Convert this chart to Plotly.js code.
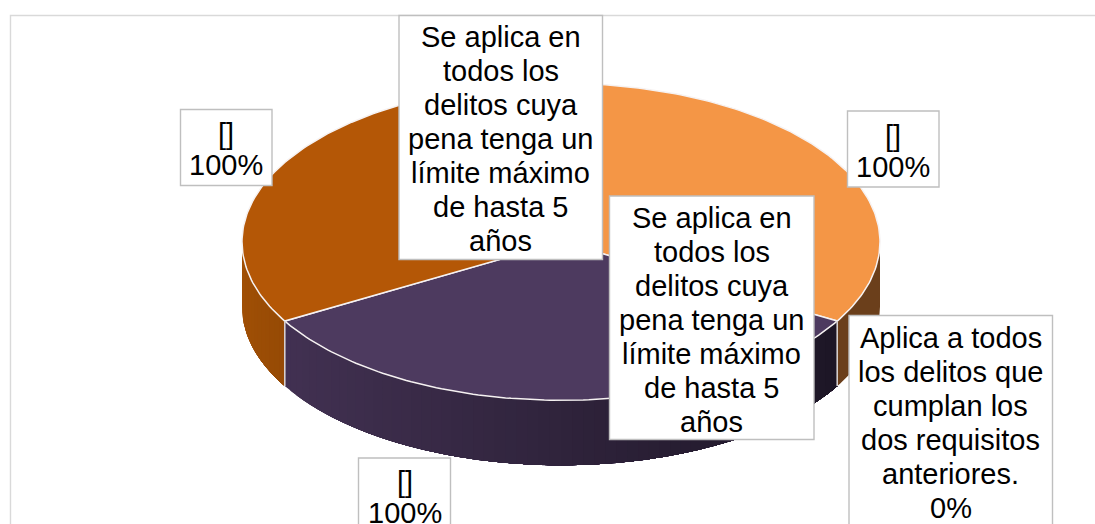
<!DOCTYPE html>
<html lang="es">
<head>
<meta charset="utf-8">
<script src="https://cdn.plot.ly/plotly-3.0.1.min.js"></script>
<style>html,body{margin:0;padding:0;background:#fff}#chart{width:1095px;height:524px}</style>
</head>
<body>
<div id="chart"></div>
<script>
// Slice values, clockwise from twelve o'clock; the last one is empty.
const sliceNames = ['[]', '[]', '[]', 'Aplica a todos los delitos que cumplan los dos requisitos anteriores.'];
const sliceValues = [100, 100, 100, 0];

// Colours per slice: top face, wall at its left end, wall at its right end.
const topColors = ['#f49646', '#4d3a5f', '#b45706', '#8064a2'];
const wallLeft = ['#6b3f1b', '#423152', '#a04f05', '#8064a2'];
const wallRight = ['#6b3f1b', '#1d1626', '#964a05', '#8064a2'];

// Text of the callouts, one entry per line.
const wrappedNote = ['Se aplica en', 'todos los', 'delitos cuya', 'pena tenga un', 'límite máximo', 'de hasta 5', 'años'];
const wrappedZero = ['Aplica a todos', 'los delitos que', 'cumplan los', 'dos requisitos', 'anteriores.', sliceValues[3] + '%'];

// Callout boxes: edges in pixels, centre line of the first text row, row spacing.
const callouts = [
  { x0: 180.5, x1: 272, y0: 109.5, y1: 185.5, first: 134, pitch: 31, rows: [sliceNames[2], sliceValues[2] + '%'] },
  { x0: 847.5, x1: 939, y0: 111, y1: 187, first: 135.5, pitch: 31, rows: [sliceNames[0], sliceValues[0] + '%'] },
  { x0: 358.5, x1: 450.5, y0: 458, y1: 534, first: 481.5, pitch: 31, rows: [sliceNames[1], sliceValues[1] + '%'] },
  { x0: 399, x1: 602.5, y0: 15.5, y1: 259.5, first: 37, pitch: 34, rows: wrappedNote },
  { x0: 609.5, x1: 814, y0: 196, y1: 439.5, first: 218, pitch: 34, rows: wrappedNote },
  { x0: 849, x1: 1052.5, y0: 315.5, y1: 560, first: 337.5, pitch: 34, rows: wrappedZero }
];

// Tilted disc geometry in pixels.
const cx = 561, cy = 241.8, rx = 319, ry = 158.5, depth = 65;
const px = deg => cx + rx * Math.sin(deg * Math.PI / 180);
const py = deg => cy - ry * Math.cos(deg * Math.PI / 180);

function hex(c) { return [1, 3, 5].map(i => parseInt(c.slice(i, i + 2), 16)); }
function mix(a, b, t) {
  const A = hex(a), B = hex(b);
  return 'rgb(' + A.map((v, i) => Math.round(v + (B[i] - v) * t)).join(',') + ')';
}
function arc(a, b) {
  const pts = [], n = Math.max(2, Math.ceil((b - a) / 1));
  for (let i = 0; i <= n; i++) pts.push(a + (b - a) * i / n);
  return pts;
}

const total = sliceValues.reduce((s, v) => s + v, 0);
const walls = [], faces = [], edges = [];
const edgeColor = '#f6f2f2';
let start = 0;

sliceValues.forEach((v, i) => {
  const end = start + v / total * 360;
  if (v > 0) {
    // Outer wall: only the front half of the disc is visible. Each band runs
    // to the far end of the wall, so later bands paint over it with no gaps.
    const a = Math.max(start, 90), b = Math.min(end, 270);
    if (b > a) {
      const xa = px(b), xb = px(a);
      const steps = wallLeft[i] === wallRight[i] ? 1 : Math.ceil((b - a) / 2);
      for (let s = 0; s < steps; s++) {
        const t0 = b - (b - a) * (s + 1) / steps;
        const ang = arc(a, b - (b - a) * s / steps);
        const tx = (px(t0) - xa) / (xb - xa);
        const col = mix(wallLeft[i], wallRight[i], Math.max(0, Math.min(1, tx)));
        walls.push({
          type: 'scatter', mode: 'lines', fill: 'toself', fillcolor: col,
          line: { width: 0, color: col }, hoverinfo: 'skip',
          x: ang.map(px).concat(ang.slice().reverse().map(px)),
          y: ang.map(py).concat(ang.slice().reverse().map(d => py(d) + depth))
        });
      }
      // Seam where the wall meets the next slice.
      [a, b].forEach(d => {
        if (d !== 90 && d !== 270) edges.push({
          type: 'scatter', mode: 'lines', line: { width: 1.2, color: '#d8d2d2' }, hoverinfo: 'skip',
          x: [px(d), px(d)], y: [py(d), py(d) + depth]
        });
      });
    }
    // Top face of the slice.
    const ang = arc(start, end);
    faces.push({
      type: 'scatter', mode: 'lines', fill: 'toself', fillcolor: topColors[i],
      line: { width: 1.5, color: edgeColor }, hoverinfo: 'skip',
      x: [cx].concat(ang.map(px), [cx]),
      y: [cy].concat(ang.map(py), [cy])
    });
  }
  start = end;
});

// Frame and callout boxes.
const shapes = [{
  type: 'rect', x0: 10.5, x1: 1110, y0: 15.5, y1: 540, xref: 'x', yref: 'y',
  line: { color: '#d9d9d9', width: 1.4 }, layer: 'below'
}].concat(callouts.map(c => ({
  type: 'rect', x0: c.x0, x1: c.x1, y0: c.y0, y1: c.y1, xref: 'x', yref: 'y',
  fillcolor: '#ffffff', line: { color: '#bfbfbf', width: 1.4 }, layer: 'above'
})));

const annotations = [];
callouts.forEach(c => {
  c.rows.forEach((row, r) => {
    annotations.push({
      text: row, x: (c.x0 + c.x1) / 2, y: c.first + r * c.pitch, xref: 'x', yref: 'y',
      showarrow: false, xanchor: 'center', yanchor: 'middle', align: 'center',
      font: { family: '"Liberation Sans", Arial, sans-serif', size: 29, color: '#000000' }
    });
  });
});

const hidden = { visible: false, fixedrange: true };
Plotly.newPlot('chart', walls.concat(faces, edges), {
  width: 1095, height: 524,
  margin: { l: 0, r: 0, t: 0, b: 0, pad: 0 },
  paper_bgcolor: '#ffffff', plot_bgcolor: '#ffffff',
  showlegend: false,
  xaxis: Object.assign({ range: [0, 1095] }, hidden),
  yaxis: Object.assign({ range: [524, 0] }, hidden),
  shapes: shapes,
  annotations: annotations
}, { staticPlot: true, displayModeBar: false });
</script>
</body>
</html>
